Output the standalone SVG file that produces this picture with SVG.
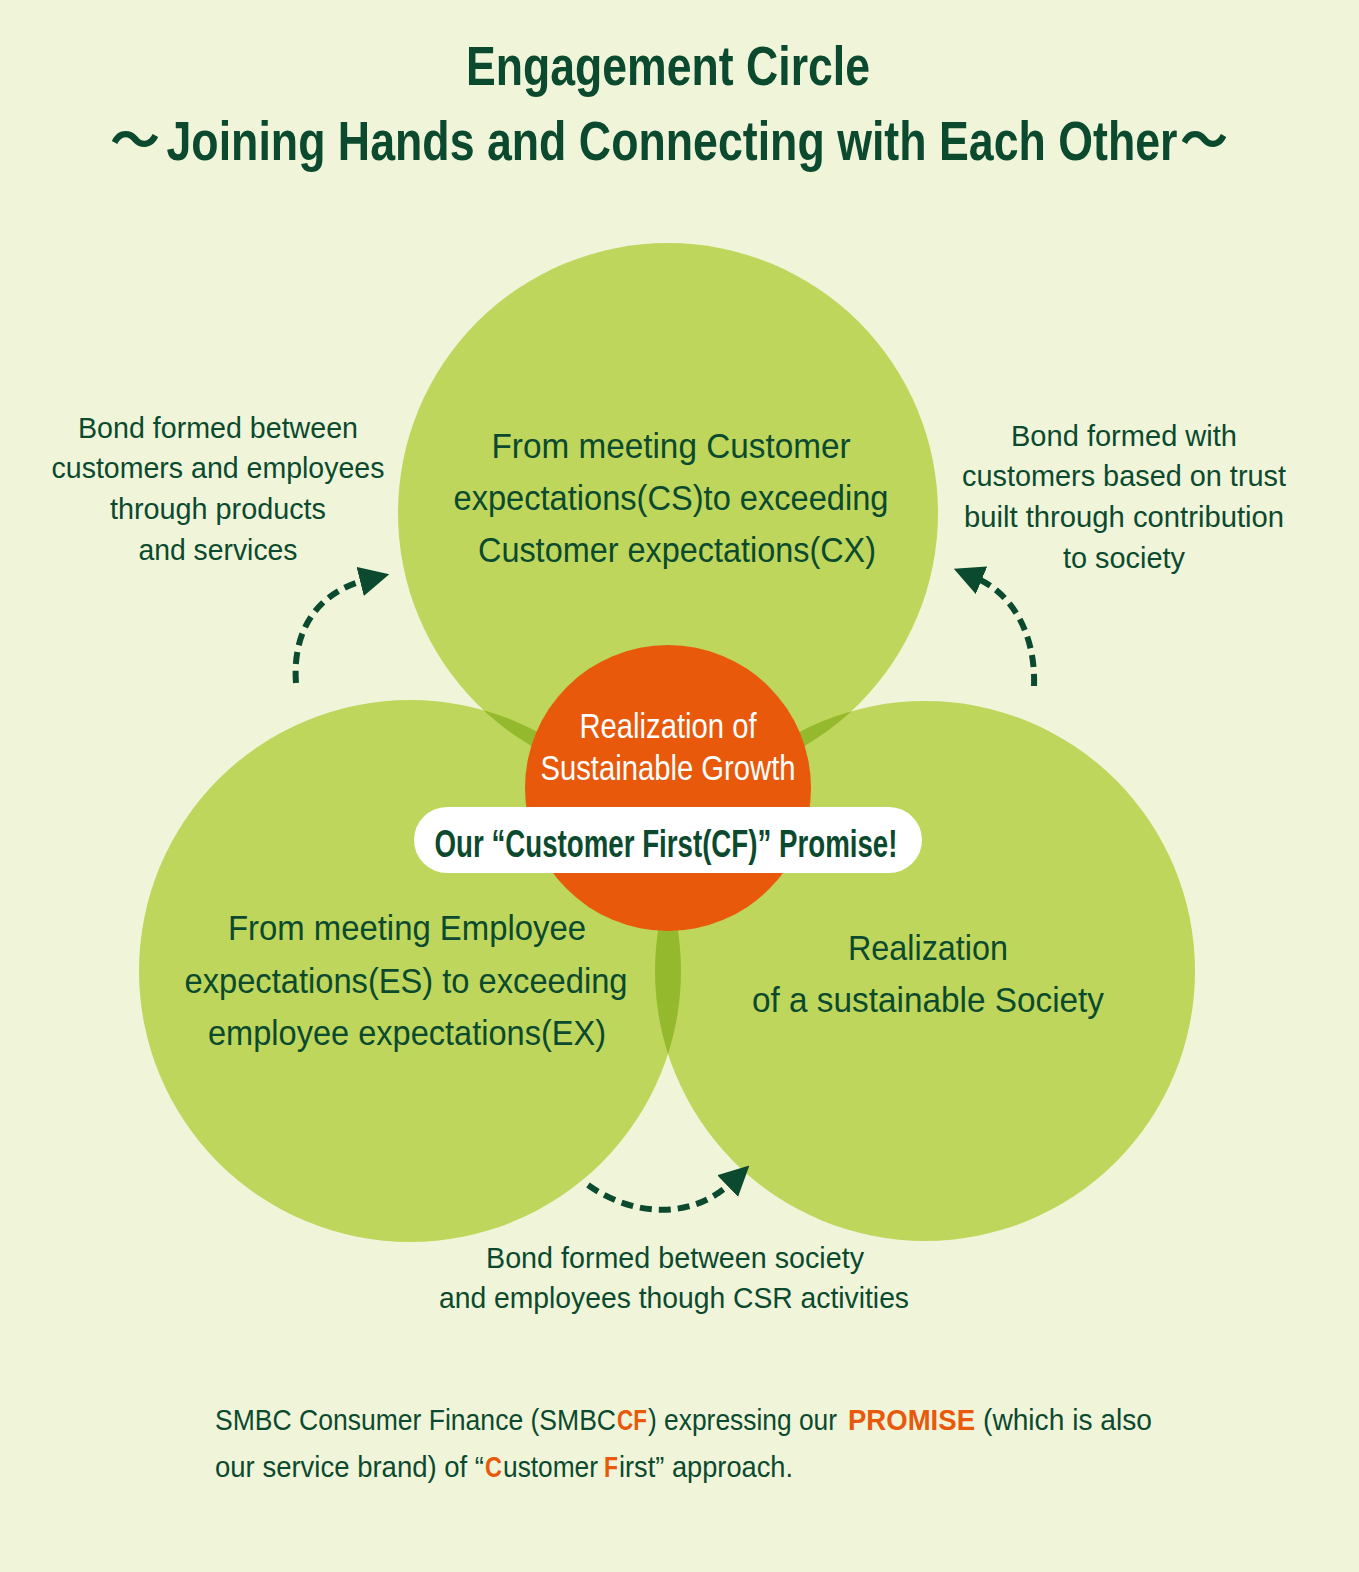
<svg xmlns="http://www.w3.org/2000/svg" width="1359" height="1572" viewBox="0 0 1359 1572">
<style>
text{font-family:"Liberation Sans",Arial,sans-serif;fill:#0b4a2e;text-anchor:middle}
.t{font-size:55px;font-weight:bold}
.wave{font-family:"Noto Sans CJK JP","Liberation Sans",sans-serif;font-size:50px;font-weight:bold;text-anchor:start}
.c{font-size:35px}
.s{font-size:29px}
.w{fill:#ffffff;font-size:35px}
.p{font-size:38px;font-weight:bold}
.f{font-size:29px;text-anchor:start}
.o{fill:#e8590c;font-weight:bold}
.g{fill:#bed65b}
.ov{fill:#95b92c}
.dash{fill:none;stroke:#0b4a2e;stroke-width:6;stroke-dasharray:12 7}
</style>
<defs>
<marker id="ah" viewBox="0 0 10 10" refX="2" refY="5" markerWidth="5" markerHeight="5" markerUnits="strokeWidth" orient="auto">
<path d="M0,0 L10,5 L0,10 z" fill="#0b4a2e"/>
</marker>
<clipPath id="cTop"><circle cx="668" cy="513" r="270"/></clipPath>
<clipPath id="cLeft"><circle cx="410" cy="971" r="271"/></clipPath>
</defs>
<rect width="1359" height="1572" fill="#f0f5da"/>
<g id="title">
<text class="t" x="668" y="85" textLength="404" lengthAdjust="spacingAndGlyphs">Engagement Circle</text>
<text class="wave" x="110" y="158" textLength="50" lengthAdjust="spacingAndGlyphs">〜</text>
<text class="t" x="672" y="160" textLength="1011" lengthAdjust="spacingAndGlyphs">Joining Hands and Connecting with Each Other</text>
<text class="wave" x="1180" y="158" textLength="48" lengthAdjust="spacingAndGlyphs">〜</text>
</g>
<g id="circle-cx">
<circle class="g" cx="668" cy="513" r="270"/>
</g>
<g id="circle-ex">
<circle class="g" cx="410" cy="971" r="271"/>
</g>
<g id="circle-society">
<circle class="g" cx="925" cy="971" r="270"/>
</g>
<g id="overlaps">
<circle class="ov" cx="410" cy="971" r="271" clip-path="url(#cTop)"/>
<circle class="ov" cx="925" cy="971" r="270" clip-path="url(#cTop)"/>
<circle class="ov" cx="925" cy="971" r="270" clip-path="url(#cLeft)"/>
</g>
<g id="circle-cx-text">
<text class="c" x="671" y="458" textLength="359" lengthAdjust="spacingAndGlyphs">From meeting Customer</text>
<text class="c" x="671" y="510" textLength="435" lengthAdjust="spacingAndGlyphs">expectations(CS)to exceeding</text>
<text class="c" x="677" y="562" textLength="398" lengthAdjust="spacingAndGlyphs">Customer expectations(CX)</text>
</g>
<g id="circle-ex-text">
<text class="c" x="407" y="940" textLength="358" lengthAdjust="spacingAndGlyphs">From meeting Employee</text>
<text class="c" x="406" y="993" textLength="443" lengthAdjust="spacingAndGlyphs">expectations(ES) to exceeding</text>
<text class="c" x="407" y="1045" textLength="398" lengthAdjust="spacingAndGlyphs">employee expectations(EX)</text>
</g>
<g id="circle-society-text">
<text class="c" x="928" y="960" textLength="160" lengthAdjust="spacingAndGlyphs">Realization</text>
<text class="c" x="928" y="1012" textLength="352" lengthAdjust="spacingAndGlyphs">of a sustainable Society</text>
</g>
<g id="center">
<circle cx="668" cy="788" r="143" fill="#e8590c"/>
<text class="w" x="668" y="738" textLength="177" lengthAdjust="spacingAndGlyphs">Realization of</text>
<text class="w" x="668" y="780" textLength="255" lengthAdjust="spacingAndGlyphs">Sustainable Growth</text>
</g>
<g id="promise">
<rect x="414" y="807" width="508" height="66" rx="33" fill="#ffffff"/>
<text class="p" x="666" y="857" textLength="463" lengthAdjust="spacingAndGlyphs">Our “Customer First(CF)” Promise!</text>
</g>
<g id="connectors">
<path class="dash" d="M296,683 C292,630 318,592 366,580" marker-end="url(#ah)"/>
<path class="dash" d="M1034,686 C1036,632 1010,592 976,578" marker-end="url(#ah)"/>
<path class="dash" d="M588,1185 C630,1215 690,1222 732,1182" marker-end="url(#ah)"/>
</g>
<g id="label-left">
<text class="s" x="218" y="438" textLength="280" lengthAdjust="spacingAndGlyphs">Bond formed between</text>
<text class="s" x="218" y="478" textLength="333" lengthAdjust="spacingAndGlyphs">customers and employees</text>
<text class="s" x="218" y="519" textLength="216" lengthAdjust="spacingAndGlyphs">through products</text>
<text class="s" x="218" y="560" textLength="159" lengthAdjust="spacingAndGlyphs">and services</text>
</g>
<g id="label-right">
<text class="s" x="1124" y="446" textLength="226" lengthAdjust="spacingAndGlyphs">Bond formed with</text>
<text class="s" x="1124" y="486" textLength="324" lengthAdjust="spacingAndGlyphs">customers based on trust</text>
<text class="s" x="1124" y="527" textLength="320" lengthAdjust="spacingAndGlyphs">built through contribution</text>
<text class="s" x="1124" y="568" textLength="122" lengthAdjust="spacingAndGlyphs">to society</text>
</g>
<g id="label-bottom">
<text class="s" x="675" y="1268" textLength="378" lengthAdjust="spacingAndGlyphs">Bond formed between society</text>
<text class="s" x="674" y="1308" textLength="470" lengthAdjust="spacingAndGlyphs">and employees though CSR activities</text>
</g>
<g id="footer">
<text class="f" x="215" y="1430" textLength="401" lengthAdjust="spacingAndGlyphs">SMBC Consumer Finance (SMBC</text>
<text class="f o" x="617" y="1430" textLength="30" lengthAdjust="spacingAndGlyphs">CF</text>
<text class="f" x="648" y="1430" textLength="189" lengthAdjust="spacingAndGlyphs">) expressing our</text>
<text class="f o" x="848" y="1430" textLength="127" lengthAdjust="spacingAndGlyphs">PROMISE</text>
<text class="f" x="983" y="1430" textLength="169" lengthAdjust="spacingAndGlyphs">(which is also</text>
<text class="f" x="215" y="1477" textLength="269" lengthAdjust="spacingAndGlyphs">our service brand) of “</text>
<text class="f o" x="485" y="1477" textLength="17" lengthAdjust="spacingAndGlyphs">C</text>
<text class="f" x="503" y="1477" textLength="95" lengthAdjust="spacingAndGlyphs">ustomer</text>
<text class="f o" x="604" y="1477" textLength="14" lengthAdjust="spacingAndGlyphs">F</text>
<text class="f" x="619" y="1477" textLength="174" lengthAdjust="spacingAndGlyphs">irst” approach.</text>
</g>
</svg>
